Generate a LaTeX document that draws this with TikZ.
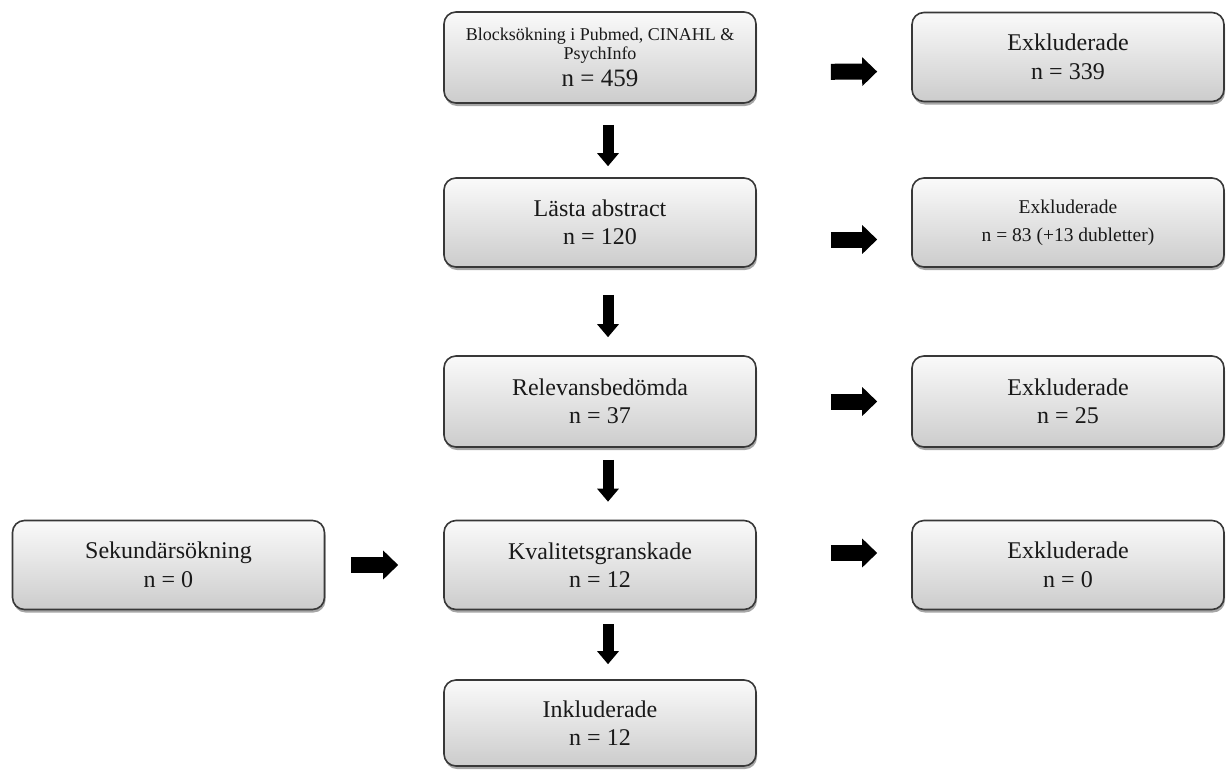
\documentclass[tikz,border=0pt]{standalone}
\usepackage{fontspec}
\setmainfont{Liberation Serif}
\usetikzlibrary{shadows,arrows.meta}
\begin{document}
\begin{tikzpicture}[x=1pt,y=-1pt,
  box/.style={draw=black!78, line width=1.6pt, rounded corners=12pt,
    top color=black!2, bottom color=black!20,
    drop shadow={shadow xshift=1pt, shadow yshift=-3pt, opacity=0.35, fill=black},
    minimum width=312pt, minimum height=89pt, inner sep=0pt, align=center,
    text=black!90, font=\fontsize{24}{28.5}\selectfont},
  darr/.style={line width=11pt, -{Triangle[width=21pt,length=13pt]}},
  rarr/.style={line width=16pt, -{Triangle[width=28pt,length=15pt]}},
]
\fill[white] (0,0) rectangle (1226,769);
\useasboundingbox (0,0) rectangle (1226,769);

\node[box, minimum height=91pt, font=\fontsize{18}{19}\selectfont] (b1) at (600,57.5)
  {Blocksökning i Pubmed, CINAHL \&\\ PsychInfo\\[6pt] {\fontsize{25}{26}\selectfont n = 459}};
\node[box] (e1) at (1068,57) {Exkluderade\\ n = 339};

\node[box] (b2) at (600,222.5) {Lästa abstract\\ n = 120};
\node[box, font=\fontsize{19.5}{28}\selectfont] (e2) at (1068,222.5) {Exkluderade\\ n = 83 (+13 dubletter)};

\node[box, minimum height=91pt] (b3) at (600,401.5) {Relevansbedömda\\ n = 37};
\node[box, minimum height=91pt] (e3) at (1068,401.5) {Exkluderade\\ n = 25};

\node[box] (b4) at (600,565) {Kvalitetsgranskade\\ n = 12};
\node[box] (e4) at (1068,565) {Exkluderade\\ n = 0};
\node[box] (s) at (168.5,565) {Sekundärsökning\\ n = 0};

\node[box, minimum height=86pt] (b5) at (600,723) {Inkluderade\\ n = 12};

% down arrows
\draw[darr, shorten <=21pt, shorten >=11pt] ([xshift=8pt]b1.south) -- ([xshift=8pt]b2.north);
\draw[darr, shorten <=27pt, shorten >=18pt] ([xshift=8pt]b2.south) -- ([xshift=8pt]b3.north);
\draw[darr, shorten <=12pt, shorten >=18pt] ([xshift=8pt]b3.south) -- ([xshift=8pt]b4.north);
\draw[darr, shorten <=14pt, shorten >=15pt] ([xshift=8pt]b4.south) -- ([xshift=8pt]b5.north);

% right arrows
\draw[rarr, shorten <=74pt, shorten >=34pt] ([yshift=-14.5pt]b1.east) -- ([yshift=-14.5pt]e1.west);
\draw[rarr, shorten <=74pt, shorten >=34pt] ([yshift=-17pt]b2.east) -- ([yshift=-17pt]e2.west);
\draw[rarr, shorten <=74pt, shorten >=34pt] (b3.east) -- (e3.west);
\draw[rarr, shorten <=74pt, shorten >=34pt] ([yshift=12pt]b4.east) -- ([yshift=12pt]e4.west);
\draw[rarr, shorten <=26pt, shorten >=45pt] (s.east) -- (b4.west);
\end{tikzpicture}
\end{document}
